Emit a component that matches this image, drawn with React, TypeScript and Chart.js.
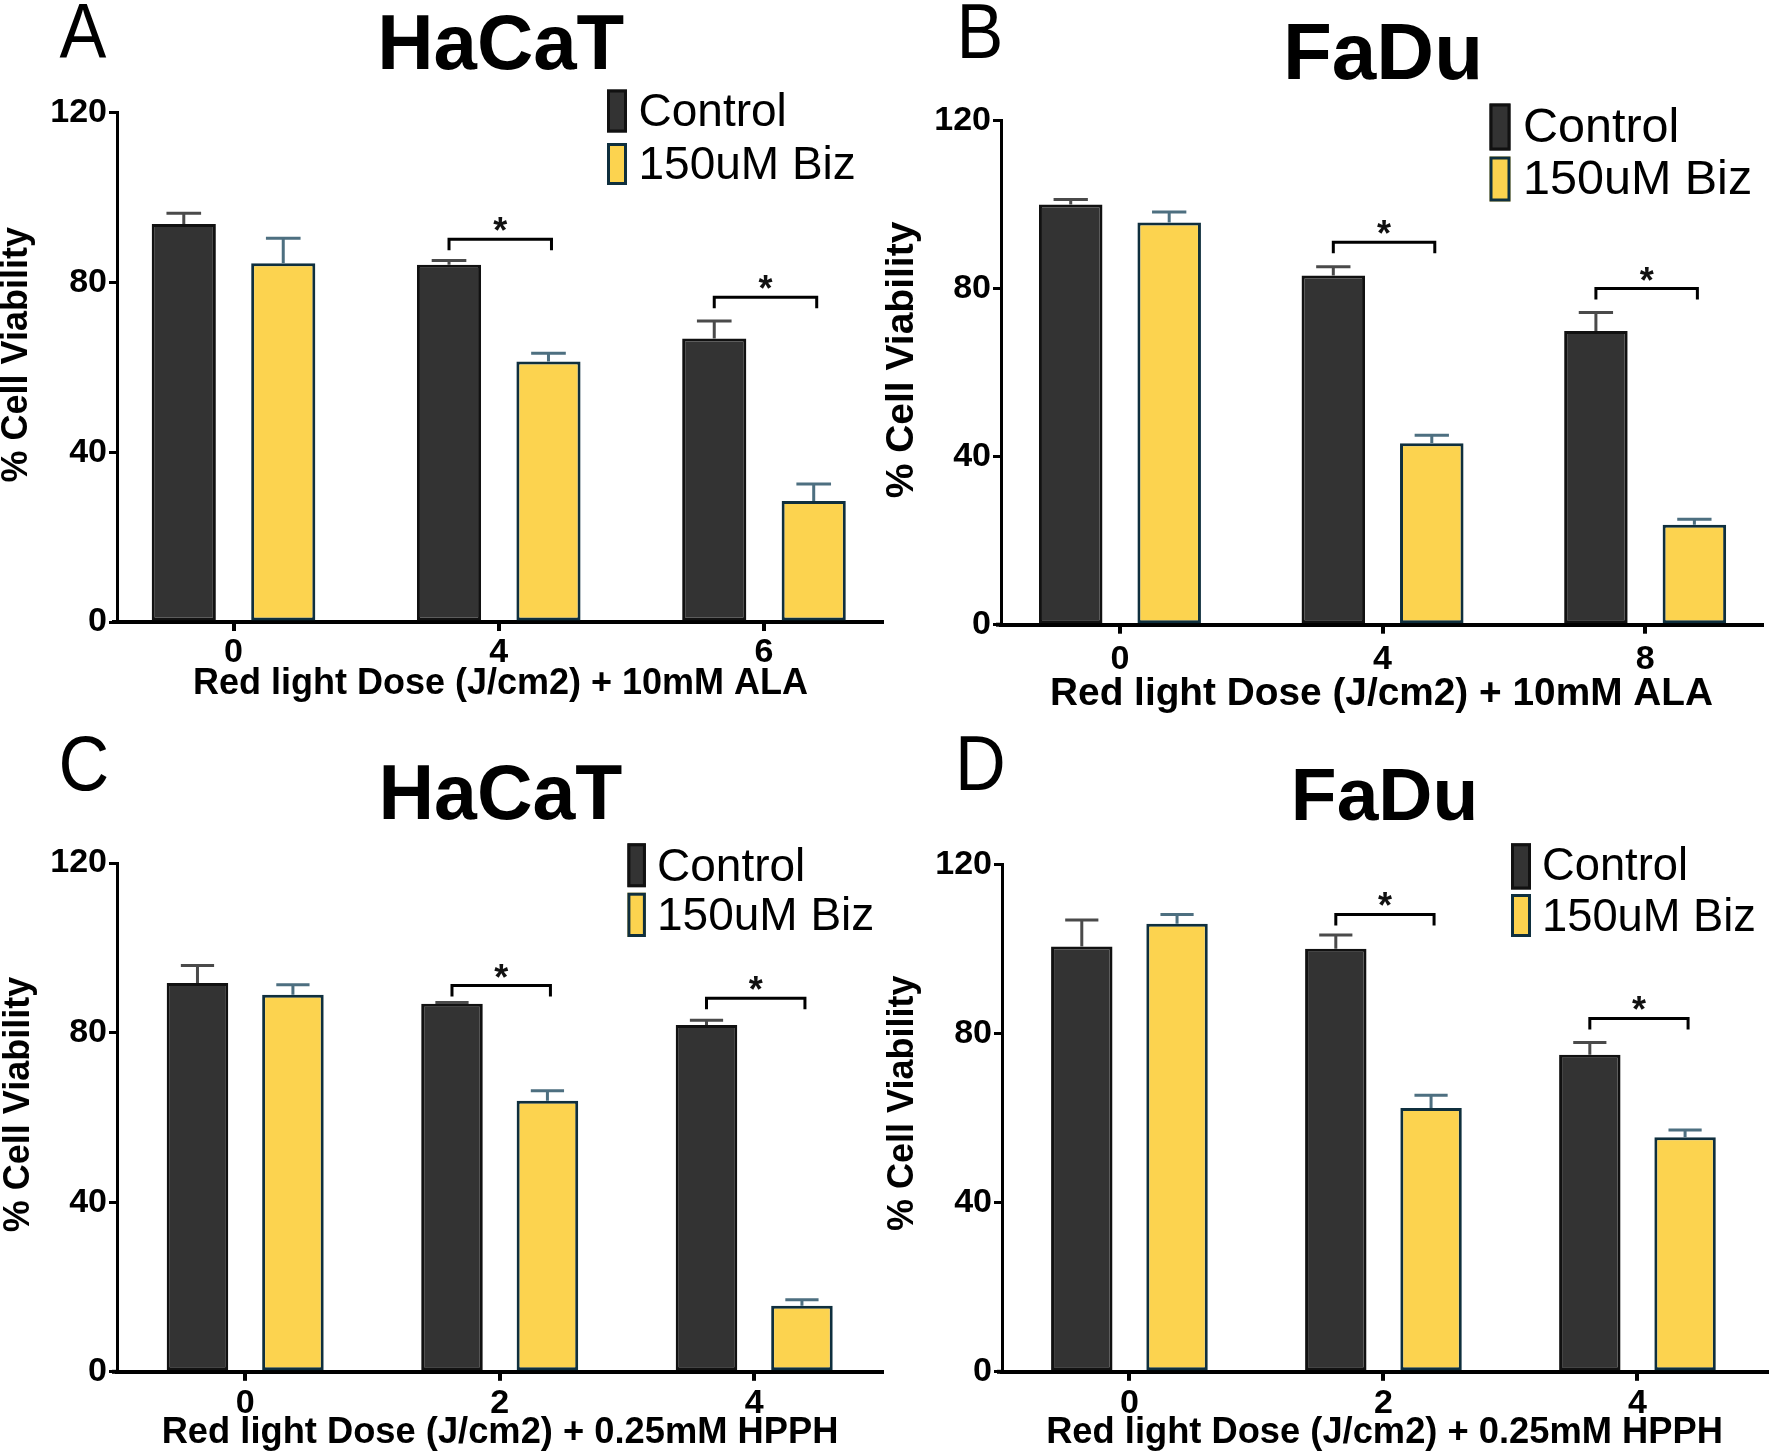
import React, { useEffect, useRef } from "react";
import { Chart, registerables } from "chart.js";

Chart.register(...registerables);

const FONT = "'Liberation Sans', Arial, Helvetica, sans-serif";

// ---------- data ----------
const seriesNames = ["Control", "150uM Biz"];
const yTicks = [0, 40, 80, 120];

// Panel A – HaCaT, ALA
const catsA = ["0", "4", "6"];
const controlA = [93.8, 84.2, 66.8];
const controlErrA = [2.5, 1.0, 4.1];
const bizA = [84.5, 61.4, 28.5];
const bizErrA = [5.9, 1.9, 4.0];
const sigA = [null, 90.2, 76.5];

// Panel B – FaDu, ALA
const catsB = ["0", "4", "8"];
const controlB = [100.0, 83.1, 69.9];
const controlErrB = [1.2, 2.1, 4.4];
const bizB = [95.7, 43.2, 23.8];
const bizErrB = [2.5, 1.9, 1.3];
const sigB = [null, 91.0, 80.0];

// Panel C – HaCaT, HPPH
const catsC = ["0", "2", "4"];
const controlC = [91.7, 86.8, 81.8];
const controlErrC = [4.1, 0.3, 1.1];
const bizC = [88.9, 63.9, 15.6];
const bizErrC = [2.4, 2.4, 1.4];
const sigC = [null, 91.1, 88.1];

// Panel D – FaDu, HPPH
const catsD = ["0", "2", "4"];
const controlD = [100.6, 100.1, 75.0];
const controlErrD = [6.3, 3.2, 2.9];
const bizD = [106.0, 62.4, 55.5];
const bizErrD = [2.2, 3.0, 1.7];
const sigD = [null, 108.2, 83.6];

// ---------- styles ----------
const CONTROL_FILL = "#333333";
const CONTROL_BORDER = "#111111";
const CONTROL_ERR = "#4a4a4a";
const BIZ_FILL = "#FCD34F";
const BIZ_BORDER = "#0F2F3E";
const BIZ_ERR = "#4d6f80";

type PanelCfg = {
  letter: string;
  title: string;
  xTitle: string;
  cats: string[];
  control: number[];
  controlErr: number[];
  biz: number[];
  bizErr: number[];
  sig: (number | null)[];
  left: number;
  top: number;
  width: number;
  height: number;
  area: { left: number; right: number; top: number; bottom: number };
  xMin: number;
  xMax: number;
  letterX: number;
  letterBase: number;
  titleX: number;
  titleBase: number;
  titleSize: number;
  sqX: number;
  sqW: number;
  sq1: [number, number];
  sq2: [number, number];
  legTextX: number;
  legSize: number;
  legBase: [number, number];
  yTitleX: number;
  yTitleY: number;
  yTitleSize: number;
  xTitleSize: number;
  xTitlePad: number;
  xTickPad: number;
};

const panels: PanelCfg[] = [
  {
    letter: "A", title: "HaCaT", xTitle: "Red light Dose (J/cm2) + 10mM ALA",
    cats: catsA, control: controlA, controlErr: controlErrA, biz: bizA, bizErr: bizErrA, sig: sigA,
    left: 0, top: 0, width: 884, height: 727,
    area: { left: 117, right: 884, top: 112.7, bottom: 622 },
    xMin: -0.4393, xMax: 2.4525,
    letterX: 59.5, letterBase: 58,
    titleX: 500.7, titleBase: 69.3, titleSize: 78,
    sqX: 607, sqW: 20, sq1: [89.5, 132.5], sq2: [143, 185],
    legTextX: 638.5, legSize: 46, legBase: [125.5, 179],
    yTitleX: 17.2, yTitleY: 354.7, yTitleSize: 36,
    xTitleSize: 36, xTitlePad: 21.4, xTickPad: 1,
  },
  {
    letter: "B", title: "FaDu", xTitle: "Red light Dose (J/cm2) + 10mM ALA",
    cats: catsB, control: controlB, controlErr: controlErrB, biz: bizB, bizErr: bizErrB, sig: sigB,
    left: 884, top: 0, width: 885, height: 727,
    area: { left: 117, right: 878, top: 120.5, bottom: 624.7 },
    xMin: -0.453, xMax: 2.445,
    letterX: 72.5, letterBase: 58,
    titleX: 499, titleBase: 79, titleSize: 80,
    sqX: 605.5, sqW: 21, sq1: [103.5, 150.5], sq2: [156.5, 201.5],
    legTextX: 639, legSize: 48.5, legBase: [142.4, 194.4],
    yTitleX: 18.6, yTitleY: 360, yTitleSize: 39,
    xTitleSize: 38.8, xTitlePad: 9.1, xTickPad: 5.9,
  },
  {
    letter: "C", title: "HaCaT", xTitle: "Red light Dose (J/cm2) + 0.25mM HPPH",
    cats: catsC, control: controlC, controlErr: controlErrC, biz: bizC, bizErr: bizErrC, sig: sigC,
    left: 0, top: 727, width: 884, height: 728,
    area: { left: 117, right: 883, top: 136, bottom: 644.8 },
    xMin: -0.5037, xMax: 2.506,
    letterX: 58.5, letterBase: 63,
    titleX: 500.4, titleBase: 92, titleSize: 77,
    sqX: 627.4, sqW: 18.5, sq1: [116.3, 160.2], sq2: [165.7, 210],
    legTextX: 657, legSize: 46, legBase: [153.5, 202.5],
    yTitleX: 18.9, yTitleY: 377.5, yTitleSize: 36,
    xTitleSize: 36.3, xTitlePad: 0, xTickPad: 2.6,
  },
  {
    letter: "D", title: "FaDu", xTitle: "Red light Dose (J/cm2) + 0.25mM HPPH",
    cats: catsD, control: controlD, controlErr: controlErrD, biz: bizD, bizErr: bizErrD, sig: sigD,
    left: 884, top: 727, width: 885, height: 728,
    area: { left: 118, right: 883, top: 137.5, bottom: 644.8 },
    xMin: -0.5016, xMax: 2.51,
    letterX: 71, letterBase: 63,
    titleX: 500.6, titleBase: 93, titleSize: 75,
    sqX: 627, sqW: 20, sq1: [116.3, 162.5], sq2: [167, 210],
    legTextX: 658, legSize: 45.3, legBase: [153.2, 204.2],
    yTitleX: 18.7, yTitleY: 376.3, yTitleSize: 36,
    xTitleSize: 36.3, xTitlePad: 0, xTickPad: 2.6,
  },
];

// ---------- plugins ----------
const errorBarPlugin = {
  id: "errorBars",
  afterDatasetsDraw(chart: any, _args: any, opts: any) {
    const { ctx } = chart;
    const yScale = chart.scales.y;
    chart.data.datasets.forEach((ds: any, di: number) => {
      const meta = chart.getDatasetMeta(di);
      const errs: number[] = opts.errors[di];
      meta.data.forEach((bar: any, i: number) => {
        const v = ds.data[i].y;
        const yTop = yScale.getPixelForValue(v + errs[i]);
        const half = bar.width * 0.27;
        ctx.save();
        ctx.strokeStyle = opts.colors[di];
        ctx.lineWidth = 3;
        ctx.beginPath();
        ctx.moveTo(bar.x, bar.y);
        ctx.lineTo(bar.x, yTop);
        ctx.moveTo(bar.x - half, yTop);
        ctx.lineTo(bar.x + half, yTop);
        ctx.stroke();
        ctx.restore();
      });
    });
  },
};

const sigPlugin = {
  id: "sigBrackets",
  afterDatasetsDraw(chart: any, _args: any, opts: any) {
    const { ctx } = chart;
    const yScale = chart.scales.y;
    const m0 = chart.getDatasetMeta(0);
    const m1 = chart.getDatasetMeta(1);
    (opts.sig as (number | null)[]).forEach((s, i) => {
      if (s === null || s === undefined) return;
      const y = yScale.getPixelForValue(s);
      const x0 = m0.data[i].x;
      const x1 = m1.data[i].x + 3;
      ctx.save();
      ctx.strokeStyle = "#000";
      ctx.lineWidth = 3;
      ctx.beginPath();
      ctx.moveTo(x0, y + 11);
      ctx.lineTo(x0, y);
      ctx.lineTo(x1, y);
      ctx.lineTo(x1, y + 11);
      ctx.stroke();
      ctx.fillStyle = "#111";
      ctx.font = `bold 36px ${FONT}`;
      ctx.textAlign = "center";
      ctx.textBaseline = "alphabetic";
      ctx.fillText("*", (x0 + x1) / 2, y + 4);
      ctx.restore();
    });
  },
};

const decorPlugin = {
  id: "panelDecor",
  afterDraw(chart: any, _args: any, o: any) {
    const { ctx, chartArea } = chart;
    ctx.save();
    // small extension of the x axis line to the left of the y axis
    ctx.strokeStyle = "#000";
    ctx.lineWidth = 4;
    ctx.beginPath();
    ctx.moveTo(chartArea.left - 5, chartArea.bottom);
    ctx.lineTo(chartArea.left, chartArea.bottom);
    ctx.stroke();

    ctx.fillStyle = "#000";
    // panel letter (slightly condensed)
    ctx.save();
    ctx.translate(o.letterX, o.letterBase);
    ctx.scale(0.9, 1);
    ctx.font = `normal 78px ${FONT}`;
    ctx.textAlign = "left";
    ctx.textBaseline = "alphabetic";
    ctx.fillText(o.letter, 0, 0);
    ctx.restore();
    // panel title
    ctx.font = `bold ${o.titleSize}px ${FONT}`;
    ctx.textAlign = "center";
    ctx.textBaseline = "alphabetic";
    ctx.fillText(o.title, o.titleX, o.titleBase);
    // legend
    const sqs = [o.sq1, o.sq2];
    chart.data.datasets.forEach((ds: any, i: number) => {
      const [t, b] = sqs[i];
      ctx.fillStyle = ds.backgroundColor;
      ctx.fillRect(o.sqX, t, o.sqW, b - t);
      ctx.strokeStyle = ds.borderColor;
      ctx.lineWidth = 3;
      ctx.strokeRect(o.sqX + 1.5, t + 1.5, o.sqW - 3, b - t - 3);
      ctx.fillStyle = "#000";
      ctx.font = `normal ${o.legSize}px ${FONT}`;
      ctx.textAlign = "left";
      ctx.fillText(ds.label, o.legTextX, o.legBase[i]);
    });
    // y title
    ctx.translate(o.yTitleX, o.yTitleY);
    ctx.rotate(-Math.PI / 2);
    ctx.font = `bold ${o.yTitleSize}px ${FONT}`;
    ctx.textAlign = "center";
    ctx.textBaseline = "middle";
    ctx.fillStyle = "#000";
    ctx.fillText("% Cell Viability", 0, 0);
    ctx.restore();
  },
};

function buildConfig(cfg: PanelCfg): any {
  const tickFont = { family: FONT, size: 34, weight: "bold" as const };
  return {
    type: "bar",
    data: {
      datasets: [
        {
          label: seriesNames[0],
          data: cfg.cats.map((_, i) => ({ x: i, y: cfg.control[i] })),
          backgroundColor: CONTROL_FILL,
          borderColor: CONTROL_BORDER,
          borderWidth: 3,
          borderSkipped: false,
          categoryPercentage: 0.75,
          barPercentage: 0.645,
        },
        {
          label: seriesNames[1],
          data: cfg.cats.map((_, i) => ({ x: i, y: cfg.biz[i] })),
          backgroundColor: BIZ_FILL,
          borderColor: BIZ_BORDER,
          borderWidth: 3,
          borderSkipped: false,
          categoryPercentage: 0.75,
          barPercentage: 0.645,
        },
      ],
    },
    options: {
      responsive: false,
      animation: false,
      layout: {
        padding: { left: 0, top: cfg.area.top, right: cfg.width - cfg.area.right, bottom: 0 },
      },
      plugins: {
        legend: { display: false },
        title: { display: false },
        tooltip: { enabled: false },
        errorBars: { errors: [cfg.controlErr, cfg.bizErr], colors: [CONTROL_ERR, BIZ_ERR] },
        sigBrackets: { sig: cfg.sig },
        panelDecor: {
          letter: cfg.letter, letterX: cfg.letterX, letterBase: cfg.letterBase,
          title: cfg.title, titleX: cfg.titleX, titleBase: cfg.titleBase, titleSize: cfg.titleSize,
          sqX: cfg.sqX, sqW: cfg.sqW, sq1: cfg.sq1, sq2: cfg.sq2,
          legTextX: cfg.legTextX, legSize: cfg.legSize, legBase: cfg.legBase,
          yTitleX: cfg.yTitleX, yTitleY: cfg.yTitleY, yTitleSize: cfg.yTitleSize,
        },
      },
      scales: {
        x: {
          type: "linear",
          min: cfg.xMin,
          max: cfg.xMax,
          offset: false,
          afterBuildTicks: (s: any) => {
            s.ticks = cfg.cats.map((_, i) => ({ value: i }));
          },
          afterFit: (s: any) => {
            s.height = cfg.height - cfg.area.bottom;
          },
          ticks: {
            autoSkip: false,
            maxRotation: 0,
            minRotation: 0,
            color: "#000",
            font: tickFont,
            padding: cfg.xTickPad,
            callback: (v: any) => cfg.cats[Math.round(Number(v))] ?? "",
          },
          grid: {
            offset: false,
            drawOnChartArea: false,
            drawTicks: true,
            tickLength: 9,
            tickWidth: 4,
            lineWidth: 4,
            tickColor: "#000",
            color: "#000",
          },
          border: { display: true, color: "#000", width: 4 },
          title: {
            display: true,
            text: cfg.xTitle,
            color: "#000",
            font: { family: FONT, size: cfg.xTitleSize, weight: "bold" },
            padding: { top: 0, bottom: cfg.xTitlePad },
          },
        },
        y: {
          type: "linear",
          min: 0,
          max: 120,
          afterBuildTicks: (s: any) => {
            s.ticks = yTicks.map((v) => ({ value: v }));
          },
          afterFit: (s: any) => {
            s.width = cfg.area.left;
          },
          ticks: {
            color: "#000",
            font: tickFont,
            padding: 2,
          },
          grid: {
            drawOnChartArea: false,
            drawTicks: true,
            tickLength: 8,
            tickWidth: 3,
            lineWidth: 3,
            tickColor: "#000",
            color: "#000",
          },
          border: { display: true, color: "#000", width: 3 },
        },
      },
    },
    plugins: [errorBarPlugin, sigPlugin, decorPlugin],
  };
}

function Panel({ cfg }: { cfg: PanelCfg }) {
  const ref = useRef<HTMLCanvasElement | null>(null);
  useEffect(() => {
    if (!ref.current) return;
    const chart = new Chart(ref.current, buildConfig(cfg));
    return () => chart.destroy();
  }, [cfg]);
  return (
    <canvas
      ref={ref}
      width={cfg.width}
      height={cfg.height}
      style={{ position: "absolute", left: cfg.left, top: cfg.top, width: cfg.width, height: cfg.height }}
    />
  );
}

export default function App() {
  return (
    <div
      style={{
        position: "absolute",
        left: 0,
        top: 0,
        width: 1769,
        height: 1455,
        background: "#ffffff",
        overflow: "hidden",
      }}
    >
      {panels.map((p) => (
        <Panel key={p.letter} cfg={p} />
      ))}
    </div>
  );
}
